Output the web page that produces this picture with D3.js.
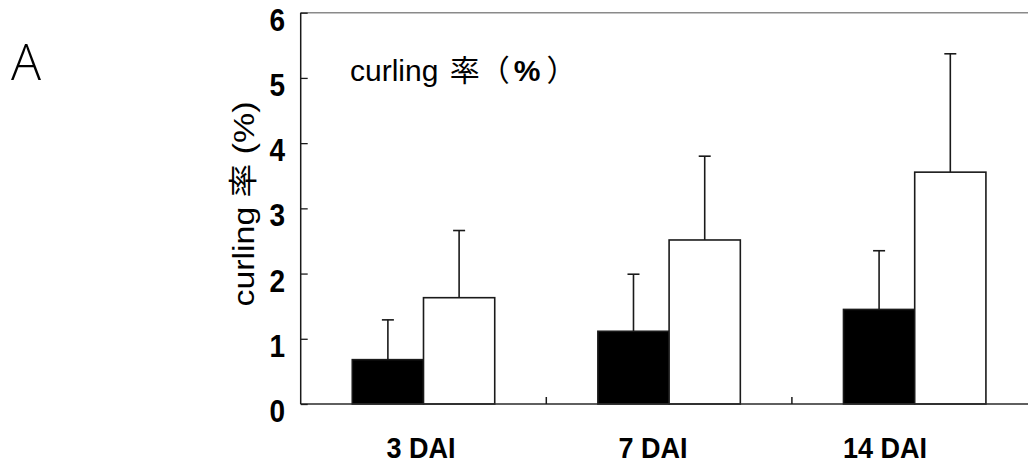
<!DOCTYPE html>
<html>
<head>
<meta charset="utf-8">
<script src="https://cdn.jsdelivr.net/npm/d3@7"></script>
<style>
  html, body { margin: 0; padding: 0; background: #fff; }
  svg { display: block; font-family: "Liberation Sans", Arial, "Noto Sans CJK JP", sans-serif; }
</style>
</head>
<body>
<svg id="chart" width="1028" height="467"></svg>
<script>
// Days after inoculation
const categories = ["3 DAI", "7 DAI", "14 DAI"];
const seriesNames = ["black", "white"];
// curling rate (%) means and upper error (SD)
const blackMeans = [0.68, 1.115, 1.45];
const blackErr   = [0.61, 0.875, 0.90];
const whiteMeans = [1.63, 2.515, 3.555];
const whiteErr   = [1.03, 1.285, 1.815];
const yTicks = [0, 1, 2, 3, 4, 5, 6];

const svg = d3.select("#chart");
const plotLeft = 300.7, plotRight = 1037.5, plotTop = 12.7, plotBottom = 404;

const y = d3.scaleLinear().domain([0, 6]).range([plotBottom, plotTop]);
const x = d3.scaleBand().domain(categories).range([plotLeft, plotRight]).padding(0);
const bw = x.bandwidth();
const xi = d3.scaleBand().domain(seriesNames).range([bw * 0.21, bw * 0.79]).padding(0);
// category labels sit on their own evenly spaced positions under the groups
const xLabel = d3.scalePoint().domain(categories).range([421, 885]);

const rows = categories.map((c, i) => ({
  cat: c,
  vals: [
    { s: "black", v: blackMeans[i], e: blackErr[i] },
    { s: "white", v: whiteMeans[i], e: whiteErr[i] }
  ]
}));

// condensed bold labels: measure at a narrower size, then draw taller at the same width
function condense(sel, baseSize, tallSize) {
  sel.attr("font-size", baseSize).each(function () {
    const w = this.getComputedTextLength();
    d3.select(this).attr("font-size", tallSize)
      .attr("textLength", w).attr("lengthAdjust", "spacingAndGlyphs");
  });
}

// frame: top border (grey)
svg.append("line").attr("x1", plotLeft).attr("x2", 1028).attr("y1", plotTop).attr("y2", plotTop)
  .attr("stroke", "#8a8a8a").attr("stroke-width", 1.5);

// error bars first so bars sit over their base
const groups = svg.selectAll("g.grp").data(rows).join("g")
  .attr("class", "grp").attr("transform", d => `translate(${x(d.cat)},0)`);

groups.selectAll("g.err").data(d => d.vals).join("g").attr("class", "err")
  .each(function (d) {
    const cx = xi(d.s) + xi.bandwidth() / 2;
    const g = d3.select(this);
    g.append("line").attr("x1", cx).attr("x2", cx)
      .attr("y1", y(d.v)).attr("y2", y(d.v + d.e))
      .attr("stroke", "#1a1a1a").attr("stroke-width", 1.6);
    g.append("line").attr("x1", cx - 6).attr("x2", cx + 6)
      .attr("y1", y(d.v + d.e)).attr("y2", y(d.v + d.e))
      .attr("stroke", "#1a1a1a").attr("stroke-width", 1.6);
  });

groups.selectAll("rect").data(d => d.vals).join("rect")
  .attr("x", d => xi(d.s))
  .attr("width", xi.bandwidth())
  .attr("y", d => y(d.v))
  .attr("height", d => y(0) - y(d.v))
  .attr("fill", d => d.s === "black" ? "#000" : "#fff")
  .attr("stroke", "#1a1a1a").attr("stroke-width", 1.6);

// x axis baseline with inward ticks at group boundaries
svg.append("line").attr("x1", plotLeft).attr("x2", 1028).attr("y1", plotBottom).attr("y2", plotBottom)
  .attr("stroke", "#2a2a2a").attr("stroke-width", 1.5);
svg.selectAll("line.xt").data(categories.slice(1)).join("line").attr("class", "xt")
  .attr("x1", d => x(d)).attr("x2", d => x(d))
  .attr("y1", plotBottom).attr("y2", plotBottom - 7)
  .attr("stroke", "#1a1a1a").attr("stroke-width", 1.5);

// y axis with inward ticks
const yAxis = d3.axisRight(y).tickValues(yTicks).tickSize(7).tickFormat("");
const yg = svg.append("g").attr("transform", `translate(${plotLeft},0)`).call(yAxis);
yg.select(".domain").remove();
yg.selectAll(".tick line").attr("stroke", "#1a1a1a").attr("stroke-width", 1.3);
svg.append("line").attr("x1", plotLeft).attr("x2", plotLeft).attr("y1", plotTop).attr("y2", plotBottom)
  .attr("stroke", "#1a1a1a").attr("stroke-width", 1.5);

// y tick labels
const yLabels = svg.selectAll("text.yl").data(yTicks).join("text").attr("class", "yl")
  .attr("x", 285).attr("y", d => y(d) + 18)
  .attr("text-anchor", "end")
  .attr("font-weight", "bold").attr("fill", "#000")
  .text(d => d);
condense(yLabels, 28, 31);

// x labels
const xLabels = svg.selectAll("text.xl").data(categories).join("text").attr("class", "xl")
  .attr("x", d => xLabel(d))
  .attr("y", 458)
  .attr("text-anchor", "middle")
  .attr("font-weight", "bold").attr("fill", "#000")
  .text(d => d);
condense(xLabels, 27, 30);

// y axis title
svg.append("text")
  .attr("transform", "translate(254,204) rotate(-90)")
  .attr("text-anchor", "middle")
  .attr("font-size", 29).attr("fill", "#000")
  .attr("textLength", 205).attr("lengthAdjust", "spacingAndGlyphs")
  .text("curling 率 (%)");

// in-plot title
const t = svg.append("text").attr("x", 350).attr("y", 81)
  .attr("font-size", 30).attr("fill", "#000");
t.append("tspan").text("curling ");
t.append("tspan").attr("dx", 3).text("率（");
t.append("tspan").attr("dx", 4).attr("font-weight", "bold").text("%");
t.append("tspan").attr("dx", 6).text("）");

// panel letter
svg.append("text").attr("x", 11).attr("y", 80)
  .attr("font-size", 50).attr("fill", "#000").attr("font-family", "'Open Sans', 'Liberation Sans', sans-serif")
  .attr("font-weight", 300)
  .text("A");
</script>
</body>
</html>
